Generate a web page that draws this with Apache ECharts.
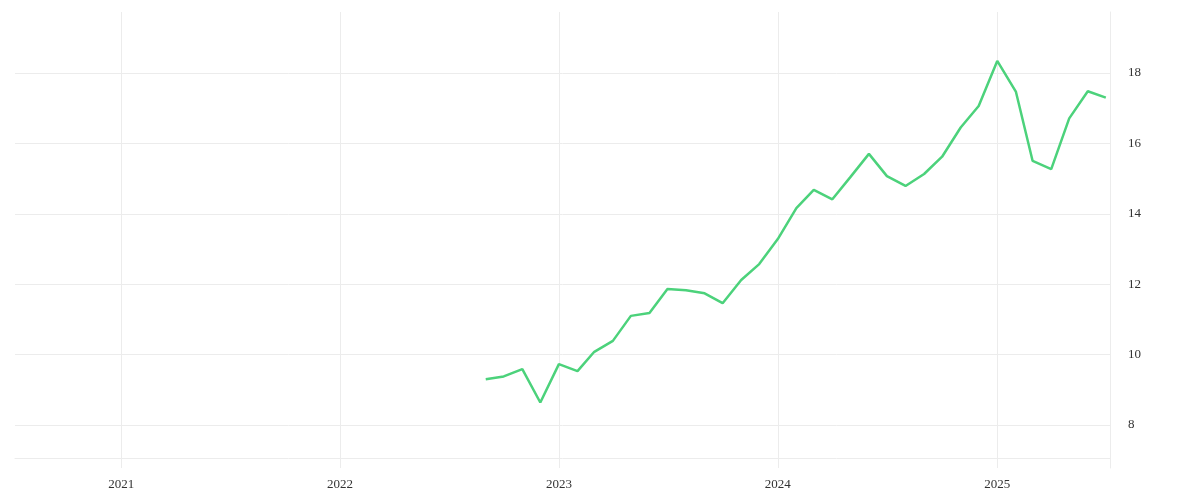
<!DOCTYPE html>
<html>
<head>
<meta charset="utf-8">
<script src="https://cdn.jsdelivr.net/npm/echarts@6/dist/echarts.min.js"></script>
<style>
  html, body { margin: 0; padding: 0; background: #ffffff; }
  #chart { width: 1200px; height: 500px; }
</style>
</head>
<body>
<div id="chart"></div>
<script>
const months = [
  '2022-09-01','2022-10-01','2022-11-01','2022-12-01',
  '2023-01-01','2023-02-01','2023-03-01','2023-04-01','2023-05-01','2023-06-01',
  '2023-07-01','2023-08-01','2023-09-01','2023-10-01','2023-11-01','2023-12-01',
  '2024-01-01','2024-02-01','2024-03-01','2024-04-01','2024-05-01','2024-06-01',
  '2024-07-01','2024-08-01','2024-09-01','2024-10-01','2024-11-01','2024-12-01',
  '2025-01-01','2025-02-01','2025-03-01','2025-04-01','2025-05-01','2025-06-01',
  '2025-07-01'
];
const values = [
  9.30, 9.38, 9.59, 8.64,
  9.73, 9.53, 10.08, 10.39, 11.10, 11.18,
  11.86, 11.83, 11.74, 11.46, 12.12, 12.57,
  13.28, 14.16, 14.68, 14.41, 15.04, 15.70,
  15.07, 14.79, 15.13, 15.62, 16.45, 17.06,
  18.34, 17.47, 15.50, 15.27, 16.71, 17.48,
  17.30
];
const xRange = ['2020-07-08', '2025-07-08'];
const yRange = [6.78, 19.73];

const chart = echarts.init(document.getElementById('chart'));
const gridColor = '#ececec';
const labelFont = { color: '#333333', fontFamily: 'Liberation Serif', fontSize: 13 };

chart.setOption({
  animation: false,
  backgroundColor: '#ffffff',
  grid: { left: 15, right: 90, top: 12, bottom: 32, containLabel: false },
  xAxis: {
    type: 'time',
    min: xRange[0],
    max: xRange[1],
    minInterval: 365 * 24 * 3600 * 1000,
    maxInterval: 366 * 24 * 3600 * 1000,
    offset: -10,
    axisLine: { show: true, lineStyle: { color: gridColor, width: 1 } },
    axisTick: { show: false },
    splitLine: { show: true, showMinLine: false, showMaxLine: false, lineStyle: { color: gridColor, width: 1 } },
    axisLabel: Object.assign({ formatter: '{yyyy}', margin: 20, showMinLabel: false, showMaxLabel: false }, labelFont)
  },
  yAxis: {
    type: 'value',
    position: 'right',
    min: yRange[0],
    max: yRange[1],
    splitNumber: 6,
    axisLine: { show: true, lineStyle: { color: gridColor, width: 1 } },
    axisTick: { show: false },
    splitLine: { show: true, showMinLine: false, showMaxLine: false, lineStyle: { color: gridColor, width: 1 } },
    axisLabel: Object.assign({
      margin: 18,
      padding: [4, 0, 0, 0],
      showMinLabel: false,
      showMaxLabel: false,
      formatter: function (v) { return Number.isInteger(v) ? String(v) : ''; }
    }, labelFont)
  },
  series: [{
    type: 'line',
    data: months.map((m, i) => [m, values[i]]),
    showSymbol: false,
    symbol: 'none',
    lineStyle: { color: '#4cd27b', width: 2.5 },
    itemStyle: { color: '#4cd27b' }
  }]
});
</script>
</body>
</html>
